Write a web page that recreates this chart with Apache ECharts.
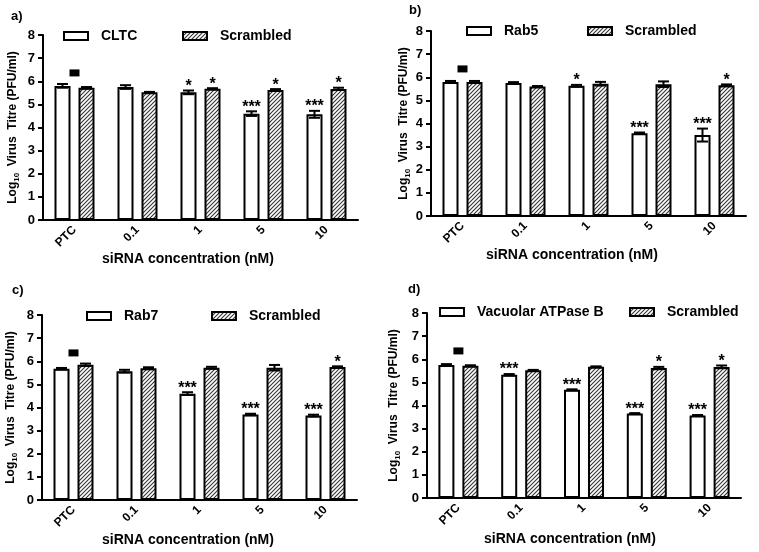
<!DOCTYPE html>
<html>
<head>
<meta charset="utf-8">
<script src="https://cdn.jsdelivr.net/npm/echarts@6/dist/echarts.min.js"></script>
<style>
  html, body { margin: 0; padding: 0; background: #fff; }
  #chart { width: 759px; height: 552px; }
</style>
</head>
<body>
<div id="chart"></div>
<script>
// siRNA knock-down: log10 virus titre, mean +/- SEM
const categories = ['PTC', '0.1', '1', '5', '10']
const yTicks = [0, 1, 2, 3, 4, 5, 6, 7, 8]

const cltcMean = [5.80, 5.75, 5.52, 4.60, 4.57]
const cltcErr = [0.08, 0.08, 0.08, 0.10, 0.15]
const cltcStars = ['', '', '*', '***', '***']
const scrA = [5.72, 5.52, 5.68, 5.62, 5.67]
const scrAErr = [0.03, 0.02, 0.02, 0.04, 0.05]
const scrAStars = ['', '', '*', '*', '*']

const rab5Mean = [5.80, 5.75, 5.63, 3.58, 3.50]
const rab5Err = [0.04, 0.04, 0.04, 0.03, 0.28]
const rab5Stars = ['', '', '*', '***', '***']
const scrB = [5.80, 5.60, 5.72, 5.70, 5.65]
const scrBErr = [0.04, 0.02, 0.08, 0.12, 0.04]
const scrBStars = ['', '', '', '', '*']

const rab7Mean = [5.68, 5.57, 4.60, 3.70, 3.65]
const rab7Err = [0.03, 0.06, 0.06, 0.03, 0.04]
const rab7Stars = ['', '', '***', '***', '***']
const scrC = [5.85, 5.70, 5.72, 5.72, 5.75]
const scrCErr = [0.05, 0.04, 0.04, 0.12, 0.03]
const scrCStars = ['', '', '', '', '*']

const vatpMean = [5.75, 5.33, 4.68, 3.65, 3.57]
const vatpErr = [0.04, 0.03, 0.02, 0.02, 0.02]
const vatpStars = ['', '***', '***', '***', '***']
const scrD = [5.72, 5.52, 5.68, 5.62, 5.67]
const scrDErr = [0.02, 0.02, 0.01, 0.05, 0.06]
const scrDStars = ['', '', '', '*', '*']

// black square over the PTC group
const ptcMarker = 6.36

const FONT = "'Liberation Sans', Arial, sans-serif"

// diagonal hatch for the scrambled bars
const hatch = document.createElement('canvas')
hatch.width = 4
hatch.height = 4
const hc = hatch.getContext('2d')
hc.fillStyle = '#fff'
hc.fillRect(0, 0, 4, 4)
hc.strokeStyle = '#333'
hc.lineWidth = 1.1
hc.beginPath()
hc.moveTo(-1, 5); hc.lineTo(5, -1)
hc.moveTo(-1, 1); hc.lineTo(1, -1)
hc.moveTo(3, 5); hc.lineTo(5, 3)
hc.stroke()
const hatchFill = { image: hatch, repeat: 'repeat' }

const panels = [
  { tag: 'a)', tagPos: [11, 10], name: 'CLTC', mean: cltcMean, err: cltcErr, stars: cltcStars,
    scr: scrA, scrErr: scrAErr, scrStars: scrAStars,
    grid: { left: 43, top: 35, width: 315, height: 185 },
    leg1: [58, 24], leg2: [177, 24], yGap: 24, xGap: 32, xPad: 25 },
  { tag: 'b)', tagPos: [409, 4], name: 'Rab5', mean: rab5Mean, err: rab5Err, stars: rab5Stars,
    scr: scrB, scrErr: scrBErr, scrStars: scrBStars,
    grid: { left: 431, top: 31, width: 315, height: 185 },
    leg1: [461, 19], leg2: [582, 19], yGap: 13, xGap: 31, xPad: 33 },
  { tag: 'c)', tagPos: [12, 284], name: 'Rab7', mean: rab7Mean, err: rab7Err, stars: rab7Stars,
    scr: scrC, scrErr: scrCErr, scrStars: scrCStars,
    grid: { left: 42, top: 315, width: 315, height: 185 },
    leg1: [81, 304], leg2: [206, 304], yGap: 25, xGap: 33, xPad: 23 },
  { tag: 'd)', tagPos: [408, 283], name: 'Vacuolar ATPase B', mean: vatpMean, err: vatpErr, stars: vatpStars,
    scr: scrD, scrErr: scrDErr, scrStars: scrDStars,
    grid: { left: 427, top: 313, width: 314, height: 185 },
    leg1: [434, 300], leg2: [624, 300], yGap: 27, xGap: 34, xPad: 28 }
]

const BAR_W = 16
const OFFSET = 12 // half of bar width + gap

const errorSeries = (idx, mean, err, stars, dx) => ({
  type: 'custom',
  xAxisIndex: idx,
  yAxisIndex: idx,
  z: 5,
  silent: true,
  data: mean.map((m, i) => [i, m, err[i]]),
  renderItem: (params, api) => {
    const i = api.value(0)
    const top = api.coord([i, api.value(1) + api.value(2)])
    const bot = api.coord([i, api.value(1) - api.value(2)])
    const x = top[0] + dx
    const style = { stroke: '#000', lineWidth: 2 }
    const children = [
      { type: 'line', shape: { x1: x, y1: top[1], x2: x, y2: bot[1] }, style },
      { type: 'line', shape: { x1: x - 5.5, y1: top[1], x2: x + 5.5, y2: top[1] }, style },
      { type: 'line', shape: { x1: x - 5.5, y1: bot[1], x2: x + 5.5, y2: bot[1] }, style }
    ]
    const s = stars[params.dataIndex]
    if (s) {
      children.push({
        type: 'text',
        style: {
          x: x, y: top[1] + 4, text: s,
          textAlign: 'center', textVerticalAlign: 'bottom',
          font: 'bold 16px ' + FONT, fill: '#000'
        }
      })
    }
    return { type: 'group', children }
  }
})

const grid = []
const xAxis = []
const yAxis = []
const series = []
const legend = []
const graphic = []

panels.forEach((p, idx) => {
  grid.push(p.grid)
  xAxis.push({
    type: 'category',
    gridIndex: idx,
    data: categories,
    axisLine: { lineStyle: { color: '#000', width: 2 } },
    axisTick: { show: false },
    axisLabel: { rotate: 45, margin: 8, color: '#000', fontWeight: 'bold', fontSize: 12, fontFamily: FONT },
    name: 'siRNA concentration (nM)',
    nameLocation: 'middle',
    nameGap: p.xGap,
    nameTextStyle: { color: '#000', fontWeight: 'bold', fontSize: 14, fontFamily: FONT, padding: [0, p.xPad, 0, 0] }
  })
  yAxis.push({
    type: 'value',
    gridIndex: idx,
    min: yTicks[0],
    max: yTicks[yTicks.length - 1],
    interval: 1,
    splitLine: { show: false },
    axisLine: { show: true, lineStyle: { color: '#000', width: 2 } },
    axisTick: { show: true, length: 5, lineStyle: { color: '#000', width: 2 } },
    axisLabel: { margin: 8, color: '#000', fontWeight: 'bold', fontSize: 13, fontFamily: FONT },
    name: '{t|Log}{s|10}{t|  Virus  Titre (PFU/ml)}',
    nameLocation: 'middle',
    nameRotate: 90,
    nameGap: p.yGap,
    nameTextStyle: {
      rich: {
        t: { color: '#000', fontWeight: 'bold', fontSize: 12, fontFamily: FONT, verticalAlign: 'bottom' },
        s: { color: '#000', fontWeight: 'bold', fontSize: 8, fontFamily: FONT, verticalAlign: 'bottom', padding: [0, 0, -2, 0] }
      }
    }
  })
  series.push({
    name: p.name,
    type: 'bar',
    xAxisIndex: idx,
    yAxisIndex: idx,
    barWidth: BAR_W,
    barGap: '50%',
    itemStyle: { color: '#fff', borderColor: '#000', borderWidth: 2 },
    data: p.mean
  })
  series.push({
    name: 'Scrambled',
    type: 'bar',
    xAxisIndex: idx,
    yAxisIndex: idx,
    barWidth: BAR_W,
    barGap: '50%',
    itemStyle: { color: hatchFill, borderColor: '#000', borderWidth: 2 },
    data: p.scr
  })
  series.push(errorSeries(idx, p.mean, p.err, p.stars, -OFFSET))
  series.push(errorSeries(idx, p.scr, p.scrErr, p.scrStars, OFFSET))
  series.push({
    type: 'scatter',
    xAxisIndex: idx,
    yAxisIndex: idx,
    symbol: 'rect',
    symbolSize: [10, 7],
    itemStyle: { color: '#000', opacity: 1 },
    silent: true,
    data: [[0, ptcMarker]]
  })
  const legText = { color: '#000', fontWeight: 'bold', fontSize: 14, fontFamily: FONT, padding: [0, 0, 0, 8] }
  legend.push({ data: [p.name], left: p.leg1[0], top: p.leg1[1], icon: 'rect', itemWidth: 24, itemHeight: 8, selectedMode: false, textStyle: legText })
  legend.push({ data: ['Scrambled'], left: p.leg2[0], top: p.leg2[1], icon: 'rect', itemWidth: 24, itemHeight: 8, selectedMode: false, textStyle: legText })
  graphic.push({
    type: 'text', left: p.tagPos[0], top: p.tagPos[1],
    style: { text: p.tag, font: 'bold 13px ' + FONT, fill: '#000' }
  })
})

const chart = echarts.init(document.getElementById('chart'))
chart.setOption({
  animation: false,
  backgroundColor: '#fff',
  grid, xAxis, yAxis, series, legend, graphic
})
</script>
</body>
</html>
